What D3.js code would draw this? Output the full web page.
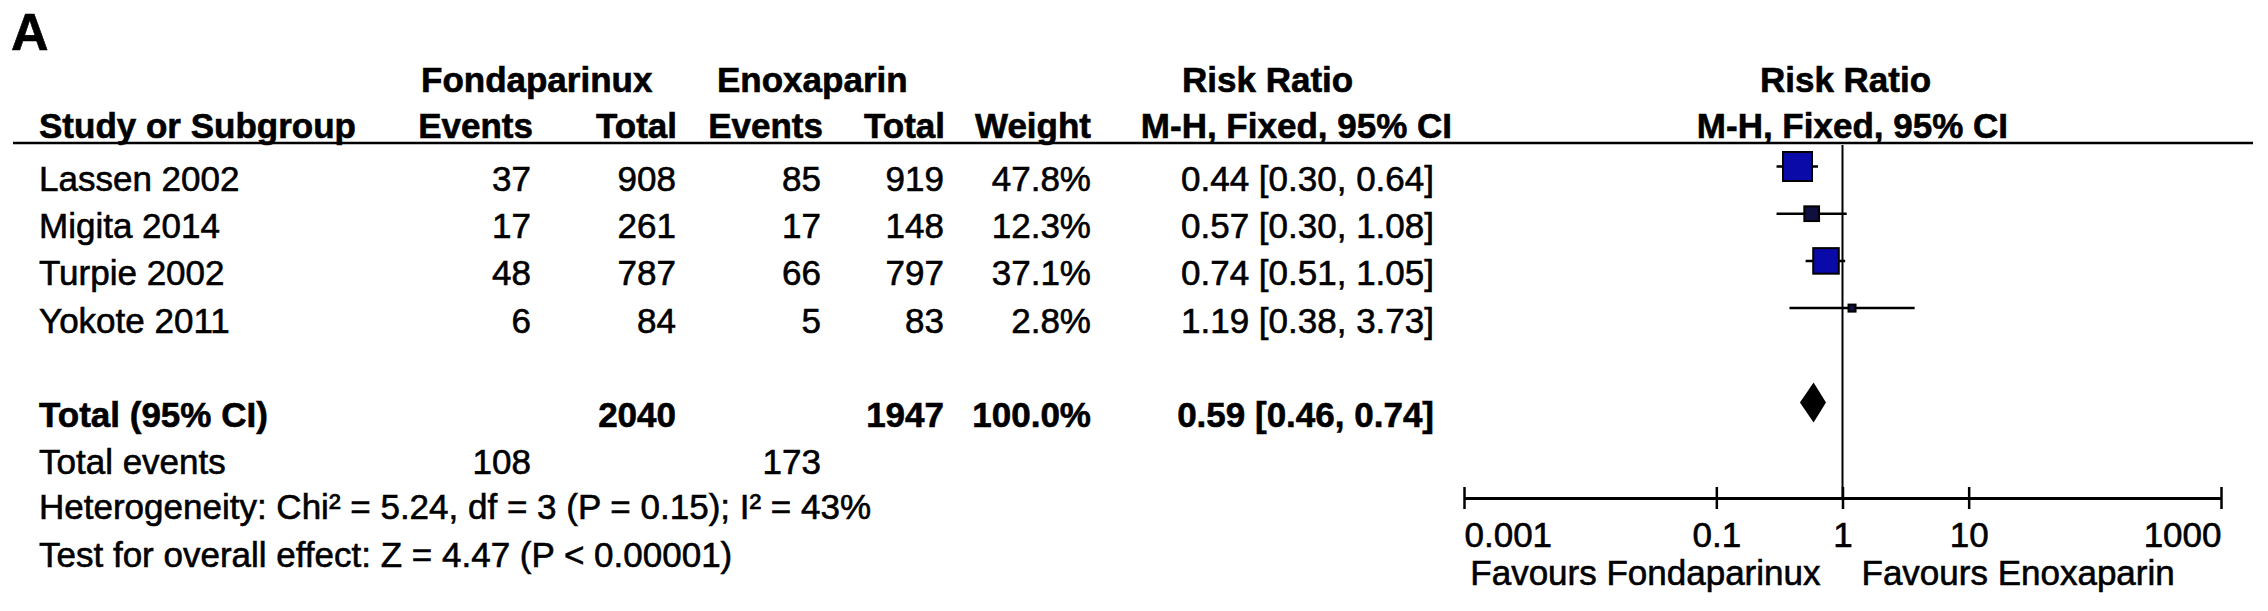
<!DOCTYPE html>
<html>
<head>
<meta charset="utf-8">
<script src="https://cdn.jsdelivr.net/npm/d3@7"></script>
<style>
  html, body { margin: 0; padding: 0; background: #fff; }
  svg text { font-family: "Liberation Sans", Arial, sans-serif; fill: #000; stroke: #000; stroke-width: 0.6px; }
</style>
</head>
<body>
<svg id="chart" width="2268" height="611"></svg>
<script>
// ---- data ----
const studies     = ["Lassen 2002", "Migita 2014", "Turpie 2002", "Yokote 2011"];
const fondEvents  = [37, 17, 48, 6];
const fondTotal   = [908, 261, 787, 84];
const enoxEvents  = [85, 17, 66, 5];
const enoxTotal   = [919, 148, 797, 83];
const weights     = [47.8, 12.3, 37.1, 2.8];
const riskRatio   = [0.44, 0.57, 0.74, 1.19];
const ciLower     = [0.30, 0.30, 0.51, 0.38];
const ciUpper     = [0.64, 1.08, 1.05, 3.73];

const pooledRR    = [0.59];
const pooledLower = [0.46];
const pooledUpper = [0.74];
const totalFond   = [2040];
const totalEnox   = [1947];
const totalWeight = ["100.0%"];
const eventsFond  = [108];
const eventsEnox  = [173];

const heterogeneityText = "Heterogeneity: Chi\u00B2 = 5.24, df = 3 (P = 0.15); I\u00B2 = 43%";
const overallText       = "Test for overall effect: Z = 4.47 (P < 0.00001)";

const tickValues = [0.001, 0.1, 1, 10, 1000];
const tickLabels = ["0.001", "0.1", "1", "10", "1000"];
const favourLeft  = "Favours Fondaparinux";
const favourRight = "Favours Enoxaparin";

// ---- layout ----
const svg = d3.select("#chart");
const FS = 35;
const rowBase = i => 191 + 47.2 * i;   // text baseline for row index
const plotOff = 24.5;                   // plot mark centre above baseline
const axisY = 498;

const x = d3.scaleLog().domain([0.001, 1000]).range([1464, 2221]);
const boxSize = d3.scaleSqrt().domain([0, 47.8]).range([0, 29]);
const f2 = d3.format(".2f");
const rrText = (r, l, u) => `${f2(r)} [${f2(l)}, ${f2(u)}]`;

function txt(s, xp, yp, anchor, bold, size) {
  return svg.append("text")
    .attr("x", xp).attr("y", yp)
    .attr("text-anchor", anchor || "start")
    .attr("font-weight", bold ? "bold" : "normal")
    .attr("font-size", size || FS)
    .text(s);
}

// panel letter
txt("A", 11, 50, "start", true, 52);

// headers
txt("Fondaparinux", 421, 92, "start", true);
txt("Enoxaparin", 717, 92, "start", true);
txt("Risk Ratio", 1182, 92, "start", true);
txt("Risk Ratio", x(1) + 3, 92, "middle", true);

txt("Study or Subgroup", 39, 138, "start", true);
txt("Events", 533, 138, "end", true);
txt("Total", 677, 138, "end", true);
txt("Events", 823, 138, "end", true);
txt("Total", 945, 138, "end", true);
txt("Weight", 1091, 138, "end", true);
txt("M-H, Fixed, 95% CI", 1452, 138, "end", true);
txt("M-H, Fixed, 95% CI", 2008, 138, "end", true);

svg.append("line")
  .attr("x1", 13).attr("x2", 2253).attr("y1", 143).attr("y2", 143)
  .attr("stroke", "#000").attr("stroke-width", 2.5);

// study rows
studies.forEach((s, i) => {
  const yb = rowBase(i);
  txt(s, 39, yb, "start", false);
  txt(fondEvents[i], 531, yb, "end", false);
  txt(fondTotal[i], 676, yb, "end", false);
  txt(enoxEvents[i], 821, yb, "end", false);
  txt(enoxTotal[i], 944, yb, "end", false);
  txt(weights[i].toFixed(1) + "%", 1091, yb, "end", false);
  txt(rrText(riskRatio[i], ciLower[i], ciUpper[i]), 1434, yb, "end", false);
});

// total rows
const yt = rowBase(5);
txt("Total (95% CI)", 39, yt, "start", true);
txt(totalFond[0], 676, yt, "end", true);
txt(totalEnox[0], 944, yt, "end", true);
txt(totalWeight[0], 1091, yt, "end", true);
txt(rrText(pooledRR[0], pooledLower[0], pooledUpper[0]), 1434, yt, "end", true);

const ye = rowBase(6);
txt("Total events", 39, ye, "start", false);
txt(eventsFond[0], 531, ye, "end", false);
txt(eventsEnox[0], 821, ye, "end", false);

txt(heterogeneityText, 39, rowBase(7) - 2, "start", false);
txt(overallText, 39, rowBase(8) - 2, "start", false);

// ---- forest plot ----
// no-effect line
svg.append("line")
  .attr("x1", x(1)).attr("x2", x(1)).attr("y1", 145).attr("y2", axisY)
  .attr("stroke", "#000").attr("stroke-width", 2);

const g = svg.append("g");
studies.forEach((s, i) => {
  const cy = rowBase(i) - plotOff;
  g.append("line")
    .attr("x1", x(ciLower[i])).attr("x2", x(ciUpper[i]))
    .attr("y1", cy).attr("y2", cy)
    .attr("stroke", "#000").attr("stroke-width", 2.5);
  const b = boxSize(weights[i]);
  g.append("rect")
    .attr("x", x(riskRatio[i]) - b / 2).attr("y", cy - b / 2)
    .attr("width", b).attr("height", b)
    .attr("fill", b > 18 ? "#0a0aa8" : "#101040")
    .attr("stroke", "#000").attr("stroke-width", 2);
});

// diamond
const dy = rowBase(5) - plotOff;
const dh = 20;
svg.append("path")
  .attr("d", `M${x(pooledLower[0])},${dy} L${x(pooledRR[0])},${dy - dh} L${x(pooledUpper[0])},${dy} L${x(pooledRR[0])},${dy + dh} Z`)
  .attr("fill", "#000");

// axis
const axis = d3.axisBottom(x)
  .tickValues(tickValues)
  .tickFormat((d, i) => tickLabels[i])
  .tickSizeOuter(0)
  .tickSizeInner(11)
  .tickPadding(36);
const ax = svg.append("g").attr("transform", `translate(0,${axisY})`).call(axis);
ax.select(".domain").attr("stroke", "#000").attr("stroke-width", 3);
ax.selectAll(".tick line").attr("y1", -11).attr("y2", 11).attr("stroke", "#000").attr("stroke-width", 2.5);
ax.selectAll(".tick text")
  .attr("font-size", FS)
  .attr("font-family", "'Liberation Sans', Arial, sans-serif")
  .attr("fill", "#000")
  .attr("dy", 0)
  .attr("y", 49)
  .attr("text-anchor", (d, i) => i === 0 ? "start" : (i === tickValues.length - 1 ? "end" : "middle"));

txt(favourLeft, x(1) - 22, 585, "end", false);
txt(favourRight, x(1) + 19, 585, "start", false);
</script>
</body>
</html>
